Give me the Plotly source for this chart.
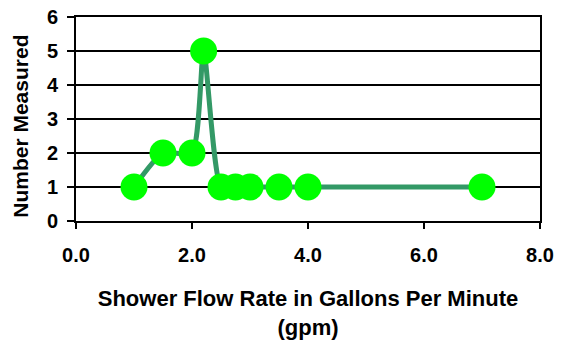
import plotly.graph_objects as go

flow_rate = [1.0, 1.5, 2.0, 2.2, 2.5, 2.75, 3.0, 3.5, 4.0, 7.0]
count = [1, 2, 2, 5, 1, 1, 1, 1, 1, 1]
x_ticks = [0, 2, 4, 6, 8]
x_tick_text = ["0.0", "2.0", "4.0", "6.0", "8.0"]
y_ticks = [0, 1, 2, 3, 4, 5, 6]

FONT = "Arial, Liberation Sans, Helvetica, sans-serif"

fig = go.Figure()
fig.add_trace(go.Scatter(
    x=flow_rate, y=count, mode="lines+markers",
    line=dict(color="#339966", width=5, shape="spline", smoothing=0.6),
    marker=dict(color="#00FF00", size=27, line=dict(width=0)),
    showlegend=False,
))

fig.update_layout(
    width=569, height=345,
    margin=dict(l=76, r=29, t=17, b=124),
    paper_bgcolor="white", plot_bgcolor="white",
    font=dict(family=FONT, color="black"),
)
fig.update_xaxes(
    range=[0, 8], tickvals=x_ticks, ticktext=x_tick_text, automargin=False,
    showline=True, linecolor="black", linewidth=2, mirror=True,
    ticks="outside", ticklen=6, tickwidth=2, tickcolor="black",
    showgrid=False, zeroline=False,
    tickfont=dict(family=FONT, size=20, weight="bold"),
    ticklabelstandoff=9,
    title=dict(text="Shower Flow Rate in Gallons Per Minute<br>(gpm)",
               font=dict(family=FONT, size=22, weight="bold"), standoff=26),
)
fig.update_yaxes(
    range=[0, 6], tickvals=y_ticks, automargin=False,
    showline=True, linecolor="black", linewidth=2, mirror=True,
    ticks="outside", ticklen=7, tickwidth=2, tickcolor="black",
    showgrid=True, gridcolor="black", gridwidth=2, zeroline=False,
    tickfont=dict(family=FONT, size=20, weight="bold"),
    ticklabelstandoff=5,
)
fig.add_annotation(
    text="Number Measured", xref="paper", yref="paper",
    x=-(76 - 21) / 464, y=(221.5 - 127) / 204.5, xanchor="center", yanchor="middle",
    textangle=-90, showarrow=False,
    font=dict(family=FONT, size=21, weight="bold", color="black"),
)

fig.write_html("out.html")
